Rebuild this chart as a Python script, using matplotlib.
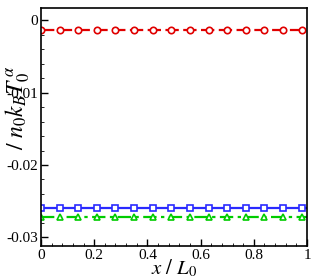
import numpy as np
import matplotlib
matplotlib.use('Agg')
import matplotlib.pyplot as plt
from matplotlib.ticker import MultipleLocator

# data (flat profiles)
x = np.linspace(0, 1, 101)
red_level = -0.00135
blue_level = -0.0259
green_level = -0.0272
red_y = np.full_like(x, red_level)
blue_y = np.full_like(x, blue_level)
green_y = np.full_like(x, green_level)

plt.rcParams['font.family'] = ['Liberation Serif', 'DejaVu Serif']
plt.rcParams['mathtext.fontset'] = 'stix'

fig = plt.figure(figsize=(3.15, 2.8), dpi=100)
ax = fig.add_axes([41/315, 34/280, 266/315, 238/280])

ax.plot(x, red_y, color='#e00000', lw=1.6, ls=(0, (6, 2)), marker='o', ms=4.6,
        mfc='white', mec='#e00000', mew=1.2, markevery=7)
ax.plot(x, blue_y, color='#2a2aff', lw=1.6, ls='-', marker='s', ms=4.6,
        mfc='white', mec='#2a2aff', mew=1.2, markevery=7)
ax.plot(x, green_y, color='#00cc00', lw=1.6, ls=(0, (6, 2, 1.5, 2)), marker='^', ms=5,
        mfc='white', mec='#00cc00', mew=1.2, markevery=7)

ax.set_xlim(0, 1)
ax.set_ylim(-0.0312, 0.0017)
ax.set_xticks([0, 0.2, 0.4, 0.6, 0.8, 1])
ax.set_xticklabels(['0', '0.2', '0.4', '0.6', '0.8', '1'])
ax.set_yticks([0, -0.01, -0.02, -0.03])
ax.set_yticklabels(['0', '-0.01', '-0.02', '-0.03'])
ax.xaxis.set_minor_locator(MultipleLocator(0.04))
ax.yaxis.set_minor_locator(MultipleLocator(0.002))
ax.tick_params(which='both', direction='in', top=False, right=False, labelsize=11, pad=2)
ax.tick_params(which='major', length=5, width=1)
ax.tick_params(which='minor', length=2.5, width=0.6)
for s in ax.spines.values():
    s.set_linewidth(1.2)

ax.set_xlabel(r'$x\ /\ L_0$', fontsize=15, labelpad=-3)
ax.set_ylabel(r'$/\ n_0 k_B T_0^{\,\alpha}$', fontsize=17)
ax.yaxis.set_label_coords(-0.035, 0.58)

fig.savefig('out.png', dpi=100)
